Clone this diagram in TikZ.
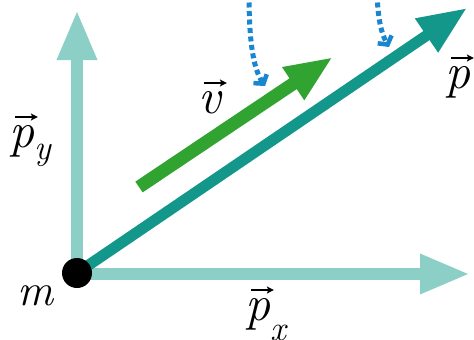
\documentclass[tikz,border=0pt]{standalone}
\usetikzlibrary{arrows.meta}
\definecolor{lteal}{HTML}{8CCFC6}
\definecolor{dteal}{HTML}{12978A}
\definecolor{vgreen}{HTML}{30A330}
\definecolor{dblue}{HTML}{1A86CF}
\tikzset{
  lbl/.style={font=\fontsize{50}{50}\selectfont\itshape, inner sep=0pt, anchor=base west},
  comp/.style={line width=12pt, color=lteal, -{Triangle[length=50pt,width=37pt]}},
  mom/.style={line width=11pt, color=dteal, -{Triangle[length=49pt,width=38pt]}},
  vel/.style={line width=13pt, color=vgreen, -{Triangle[length=48pt,width=36pt]}},
  dots/.style={line width=5pt, color=dblue, dash pattern=on 5pt off 3.5pt, -{Straight Barb[length=6pt,width=16pt,line width=4.5pt]}}
}
\newcommand{\vecarrow}{\tikz[x=1pt,y=1pt,baseline=0pt]\draw[line width=1.4pt,-{Stealth[length=7pt,width=7pt,inset=1.5pt]}] (0,0)--(23,0);}
\newcommand{\vl}[1]{\rlap{\hspace{0.1em}\raisebox{0.6em}{\vecarrow}}#1}
\newcommand{\subsc}[2]{\raisebox{#1}{\fontsize{35}{35}\selectfont #2}}
\begin{document}
\begin{tikzpicture}[x=1pt,y=-1pt]
\useasboundingbox (0,0) rectangle (474,340);
\clip (0,0) rectangle (474,340);
\coordinate (m) at (77,273);
\coordinate (ytip) at (77,10);
\coordinate (xtip) at (470,274);
\coordinate (ptip) at (467,8);
\coordinate (vtail) at (139,187);
\coordinate (vtip) at (333,57);
\coordinate (s1) at (249,-6);
\coordinate (e1) at (265,86);
\coordinate (s2) at (377,-6);
\coordinate (e2) at (389,47);
\draw[comp] (77,268) -- (ytip);
\draw[comp] (80,274) -- (xtip);
\draw[mom] (m) -- (ptip);
\draw[vel] (vtail) -- (vtip);
\draw[dots] (s1) .. controls (249,40) and (253,68) .. (e1);
\draw[dots] (s2) .. controls (378,18) and (381,33) .. (e2);
\fill[black] (m) circle (15);
\node[lbl, font=\fontsize{45}{45}\selectfont\itshape] (lm) at (17,305) {m};
\node[lbl] (lpy) at (9,147) {\vl{p}\subsc{-0.25em}{y}};
\node[lbl] (lpx) at (245,320) {\vl{p}\subsc{-0.4em}{x}};
\node[lbl] (lv) at (198,113) {\vl{v}};
\node[lbl] (lp) at (445,88) {\vl{p}};
\end{tikzpicture}
\end{document}
